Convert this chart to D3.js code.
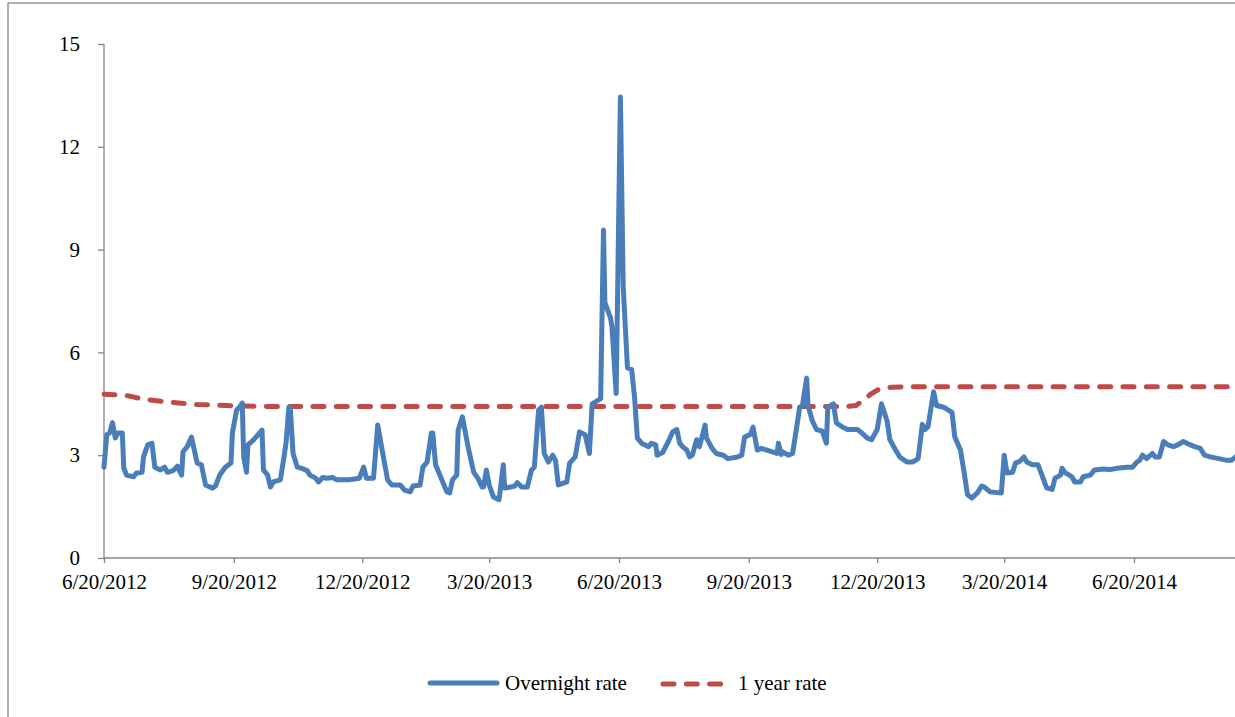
<!DOCTYPE html>
<html>
<head>
<meta charset="utf-8">
<script src="https://cdn.jsdelivr.net/npm/d3@7/dist/d3.min.js"></script>
<style>
  html, body { margin: 0; padding: 0; background: #fff; }
  svg { display: block; }
  text { font-family: "Liberation Serif", "Times New Roman", serif; fill: #000; }
</style>
</head>
<body>
<svg id="chart" width="1235" height="717"></svg>
<script>
// ---------------- DATA ----------------
const seriesNames = ["Overnight rate", "1 year rate"];
const yTicks = [0, 3, 6, 9, 12, 15];
const xTickDates = ["2012-06-20", "2012-09-20", "2012-12-20", "2013-03-20", "2013-06-20",
                    "2013-09-20", "2013-12-20", "2014-03-20", "2014-06-20"];

const overnight = [
["2012-06-20",2.65],["2012-06-22",3.6],["2012-06-24",3.65],["2012-06-26",3.95],["2012-06-28",3.5],
["2012-06-30",3.65],["2012-07-03",3.65],["2012-07-04",2.63],["2012-07-06",2.42],["2012-07-11",2.37],
["2012-07-13",2.48],["2012-07-17",2.5],["2012-07-18",2.95],["2012-07-21",3.3],["2012-07-24",3.35],
["2012-07-26",2.65],["2012-07-30",2.57],["2012-08-02",2.65],["2012-08-04",2.5],["2012-08-08",2.55],
["2012-08-11",2.68],["2012-08-14",2.42],["2012-08-15",3.1],["2012-08-18",3.25],["2012-08-21",3.53],
["2012-08-23",3.15],["2012-08-25",2.77],["2012-08-28",2.72],["2012-08-31",2.13],["2012-09-05",2.04],
["2012-09-07",2.1],["2012-09-10",2.42],["2012-09-14",2.65],["2012-09-18",2.77],["2012-09-19",3.65],
["2012-09-22",4.32],["2012-09-24",4.4],["2012-09-26",4.52],["2012-09-27",2.95],["2012-09-29",2.5],
["2012-09-30",3.3],["2012-10-04",3.45],["2012-10-10",3.73],["2012-10-11",2.57],["2012-10-14",2.42],
["2012-10-16",2.07],["2012-10-18",2.22],["2012-10-23",2.28],["2012-10-25",2.8],["2012-10-27",3.35],
["2012-10-29",4.4],["2012-10-30",4.4],["2012-11-01",3.05],["2012-11-04",2.65],["2012-11-07",2.62],
["2012-11-11",2.55],["2012-11-13",2.42],["2012-11-17",2.33],["2012-11-19",2.22],["2012-11-22",2.35],
["2012-11-25",2.33],["2012-11-29",2.35],["2012-12-02",2.28],["2012-12-11",2.28],["2012-12-13",2.3],
["2012-12-18",2.33],["2012-12-21",2.65],["2012-12-23",2.33],["2012-12-28",2.33],["2012-12-31",3.88],
["2013-01-04",2.95],["2013-01-07",2.28],["2013-01-10",2.13],["2013-01-16",2.13],["2013-01-19",1.98],
["2013-01-23",1.93],["2013-01-25",2.1],["2013-01-30",2.13],["2013-02-01",2.65],["2013-02-04",2.8],
["2013-02-07",3.65],["2013-02-08",3.65],["2013-02-10",2.72],["2013-02-13",2.42],["2013-02-18",1.93],
["2013-02-20",1.9],["2013-02-22",2.28],["2013-02-25",2.42],["2013-02-26",3.73],["2013-03-01",4.12],
["2013-03-05",3.25],["2013-03-09",2.5],["2013-03-12",2.33],["2013-03-15",2.07],["2013-03-16",2.07],
["2013-03-18",2.57],["2013-03-20",2.13],["2013-03-23",1.78],["2013-03-27",1.7],["2013-03-30",2.72],
["2013-03-31",2.04],["2013-04-04",2.07],["2013-04-07",2.1],["2013-04-09",2.2],["2013-04-12",2.07],
["2013-04-16",2.07],["2013-04-19",2.57],["2013-04-21",2.65],["2013-04-24",4.32],["2013-04-26",4.4],
["2013-04-28",3.05],["2013-05-01",2.8],["2013-05-04",3.0],["2013-05-06",2.85],["2013-05-08",2.13],
["2013-05-14",2.22],["2013-05-16",2.77],["2013-05-20",2.95],["2013-05-23",3.68],["2013-05-27",3.6],
["2013-05-30",3.05],["2013-06-01",4.5],["2013-06-07",4.65],["2013-06-09",9.57],["2013-06-10",7.45],
["2013-06-14",7.0],["2013-06-15",6.75],["2013-06-18",4.8],["2013-06-21",13.45],["2013-06-23",7.9],
["2013-06-26",5.55],["2013-06-29",5.5],["2013-07-01",4.7],["2013-07-03",3.5],["2013-07-06",3.35],
["2013-07-11",3.25],["2013-07-13",3.35],["2013-07-16",3.3],["2013-07-17",3.0],["2013-07-21",3.08],
["2013-07-25",3.4],["2013-07-28",3.68],["2013-07-31",3.75],["2013-08-02",3.35],["2013-08-04",3.25],
["2013-08-07",3.15],["2013-08-09",2.95],["2013-08-11",3.0],["2013-08-14",3.45],["2013-08-16",3.25],
["2013-08-20",3.88],["2013-08-21",3.5],["2013-08-25",3.2],["2013-08-28",3.05],["2013-09-02",3.0],
["2013-09-05",2.9],["2013-09-12",2.95],["2013-09-15",3.0],["2013-09-17",3.53],["2013-09-21",3.6],
["2013-09-23",3.82],["2013-09-26",3.15],["2013-09-29",3.2],["2013-10-10",3.05],["2013-10-11",3.35],
["2013-10-13",3.02],["2013-10-14",3.1],["2013-10-18",3.0],["2013-10-21",3.05],["2013-10-24",3.83],
["2013-10-26",4.4],["2013-10-28",4.45],["2013-10-31",5.25],["2013-11-01",4.45],["2013-11-04",4.0],
["2013-11-07",3.75],["2013-11-11",3.7],["2013-11-14",3.35],["2013-11-15",4.4],["2013-11-19",4.5],
["2013-11-21",3.95],["2013-11-25",3.83],["2013-11-29",3.75],["2013-12-06",3.75],["2013-12-09",3.65],
["2013-12-13",3.5],["2013-12-16",3.45],["2013-12-20",3.75],["2013-12-23",4.5],["2013-12-27",4.0],
["2013-12-29",3.45],["2014-01-02",3.15],["2014-01-05",2.95],["2014-01-10",2.8],["2014-01-14",2.8],
["2014-01-18",2.9],["2014-01-21",3.9],["2014-01-23",3.75],["2014-01-25",3.83],["2014-01-28",4.6],
["2014-01-29",4.85],["2014-01-31",4.45],["2014-02-05",4.4],["2014-02-11",4.25],["2014-02-13",3.53],
["2014-02-17",3.15],["2014-02-19",2.65],["2014-02-22",1.85],["2014-02-25",1.75],["2014-03-01",1.9],
["2014-03-04",2.1],["2014-03-06",2.07],["2014-03-10",1.93],["2014-03-18",1.9],["2014-03-20",3.0],
["2014-03-22",2.48],["2014-03-26",2.5],["2014-03-28",2.77],["2014-03-31",2.82],["2014-04-03",2.95],
["2014-04-05",2.8],["2014-04-09",2.72],["2014-04-13",2.72],["2014-04-17",2.28],["2014-04-19",2.05],
["2014-04-23",2.0],["2014-04-25",2.33],["2014-04-29",2.42],["2014-04-30",2.62],["2014-05-02",2.5],
["2014-05-07",2.37],["2014-05-09",2.22],["2014-05-13",2.22],["2014-05-15",2.37],["2014-05-20",2.42],
["2014-05-23",2.57],["2014-05-29",2.6],["2014-06-03",2.58],["2014-06-08",2.62],["2014-06-15",2.65],
["2014-06-19",2.65],["2014-06-22",2.8],["2014-06-24",2.85],["2014-06-26",3.0],["2014-06-29",2.9],
["2014-07-03",3.05],["2014-07-05",2.95],["2014-07-08",2.95],["2014-07-11",3.4],["2014-07-14",3.3],
["2014-07-18",3.25],["2014-07-21",3.3],["2014-07-25",3.4],["2014-07-30",3.3],["2014-08-02",3.25],
["2014-08-06",3.2],["2014-08-09",3.0],["2014-08-13",2.95],["2014-08-19",2.9],["2014-08-25",2.85],
["2014-08-28",2.85],["2014-08-31",2.95],["2014-09-02",3.0]
];

const oneYear = [
["2012-06-20",4.78],["2012-07-05",4.75],["2012-07-20",4.62],["2012-08-05",4.55],["2012-08-25",4.48],
["2012-09-20",4.44],["2012-10-20",4.42],["2013-06-20",4.42],["2013-11-28",4.42],["2013-12-05",4.45],
["2013-12-10",4.6],["2013-12-16",4.8],["2013-12-21",4.92],["2013-12-30",4.98],["2014-01-10",5.0],
["2014-09-02",5.0]
];

// ---------------- CHART ----------------
const parse = d3.utcParse("%Y-%m-%d");
const fmt = d3.utcFormat("%-m/%-d/%Y");
const svg = d3.select("#chart");
const W = 1235, H = 717;
const plotLeft = 104, plotTop = 44, plotBottom = 558;
const fontSize = 21;

svg.append("rect").attr("width", W).attr("height", H).attr("fill", "#fff");
// outer chart frame (cropped)
svg.append("rect").attr("x", 8).attr("y", 3).attr("width", W + 20).attr("height", H + 20)
   .attr("fill", "none").attr("stroke", "#878787").attr("stroke-width", 1.3);

const x = d3.scaleUtc()
  .domain([parse("2012-06-20"), parse("2014-06-20")])
  .range([plotLeft, 1134]);
const y = d3.scaleLinear().domain([0, 15]).range([plotBottom, plotTop]);

const axisColor = "#868686";

// y axis
const yAxis = svg.append("g").attr("transform", `translate(${plotLeft},0)`)
  .call(d3.axisLeft(y).tickValues(yTicks).tickSize(6).tickPadding(18).tickFormat(d3.format("d")));
yAxis.select(".domain").attr("stroke", axisColor).attr("stroke-width", 1.3).attr("d", `M0,${plotTop}V${plotBottom}`);
yAxis.selectAll(".tick line").attr("stroke", axisColor).attr("stroke-width", 1.3);
yAxis.selectAll(".tick text").attr("font-size", fontSize).attr("font-family", "Liberation Serif").attr("fill", "#000");

// x axis
const xAxis = svg.append("g").attr("transform", `translate(0,${plotBottom})`)
  .call(d3.axisBottom(x).tickValues(xTickDates.map(parse)).tickSize(5).tickPadding(11).tickFormat(fmt));
xAxis.select(".domain").attr("stroke", axisColor).attr("stroke-width", 1.3).attr("d", `M${plotLeft},0H${W + 10}`);
xAxis.selectAll(".tick line").attr("stroke", axisColor).attr("stroke-width", 1.3);
xAxis.selectAll(".tick text").attr("font-size", fontSize).attr("font-family", "Liberation Serif").attr("fill", "#000");

const line = d3.line().x(d => x(parse(d[0]))).y(d => y(d[1]));

const blue = "#4A7EBB", red = "#BE4B48";

svg.append("path").datum(oneYear).attr("d", line)
  .attr("fill", "none").attr("stroke", red).attr("stroke-width", 5)
  .attr("stroke-dasharray", "11 12.3").attr("stroke-linecap", "round");

svg.append("path").datum(overnight).attr("d", line)
  .attr("fill", "none").attr("stroke", blue).attr("stroke-width", 5)
  .attr("stroke-linejoin", "round").attr("stroke-linecap", "round");

// legend
const lg = svg.append("g");
lg.append("line").attr("x1", 430).attr("x2", 497).attr("y1", 683).attr("y2", 683)
  .attr("stroke", blue).attr("stroke-width", 5).attr("stroke-linecap", "round");
lg.append("text").attr("x", 505).attr("y", 690).attr("font-size", fontSize).text(seriesNames[0]);
lg.append("line").attr("x1", 663).attr("x2", 722).attr("y1", 684).attr("y2", 684)
  .attr("stroke", red).attr("stroke-width", 5).attr("stroke-linecap", "round")
  .attr("stroke-dasharray", "11 12.3");
lg.append("text").attr("x", 738).attr("y", 690).attr("font-size", fontSize).text(seriesNames[1]);
</script>
</body>
</html>
